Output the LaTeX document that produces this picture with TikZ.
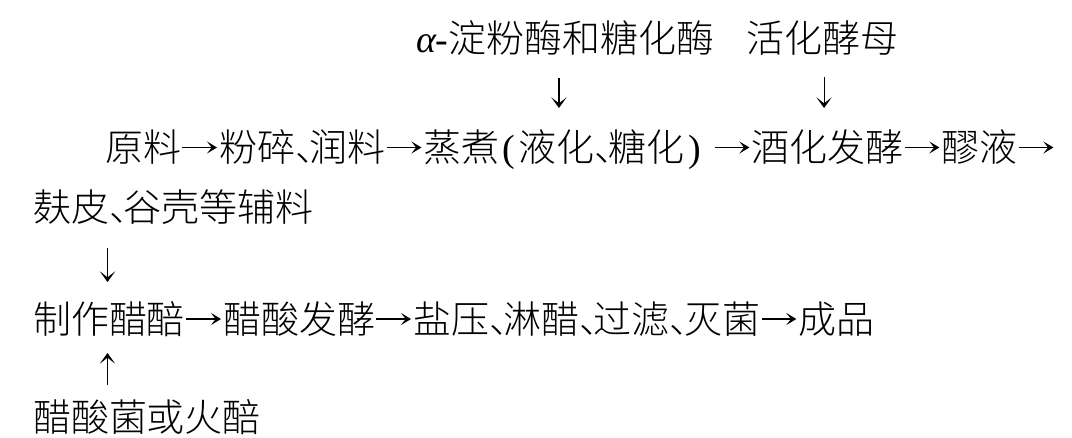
\documentclass[tikz,border=0pt]{standalone}
\usepackage{fontspec}
\setmainfont{Liberation Serif}
\newfontfamily\cjk{Noto Sans CJK SC}[UprightFont={* Light}]
\usetikzlibrary{calc,arrows.meta}
\newcommand\mydun{\makebox[0.38em][l]{、}}
\newcommand\mylp{\makebox[0.5em][c]{\rmfamily(}}
\newcommand\myrp{\makebox[0.5em][c]{\rmfamily)}\kern0.25em}
\begin{document}
\begin{tikzpicture}[x=0.75pt,y=-0.75pt,
  every node/.style={inner sep=0pt, outer sep=0pt, anchor=west,
    text height=25.08pt, text depth=3.42pt},
  cj/.style={font=\cjk\fontsize{28.5pt}{34pt}\selectfont},
  harr/.style={-{Stealth[length=7.5pt,width=9pt,inset=3.5pt]}, line width=0.85pt,
    shorten <=1pt, shorten >=1.5pt},
  varr/.style={-{Stealth[length=8pt,width=11.5pt,inset=4.5pt]}, line width=0.85pt}]
\useasboundingbox (0,0) rectangle (1072,437);
% line 1
\node[cj] (enz) at (416,38) {{\rmfamily{\itshape α}-}淀粉酶和糖化酶};
\node[cj] (yeast) at (746,38) {活化酵母};
% line 3
\node[cj] (n1) at (105,147.5) {原料};
\node[cj] (n2) at ([xshift=28.5pt]n1.east) {粉碎\mydun 润料};
\node[cj] (n3) at ([xshift=28.5pt]n2.east) {蒸煮\mylp 液化\mydun 糖化\myrp};
\node[cj] (n4) at ([xshift=28.5pt]n3.east) {酒化发酵};
\node[cj] (n5) at ([xshift=28.5pt]n4.east) {醪液};
\coordinate (n6) at ([xshift=28.5pt]n5.east);
\draw[harr] (n1.east) -- (n2.west);
\draw[harr] (n2.east) -- (n3.west);
\draw[harr] (n3.east) -- (n4.west);
\draw[harr] (n4.east) -- (n5.west);
\draw[harr] (n5.east) -- (n6);
% line 4
\node[cj] (aux) at (33,207) {麸皮\mydun 谷壳等辅料};
% line 6
\node[cj] (m1) at (33,319) {制作醋醅};
\node[cj] (m2) at ([xshift=28.5pt]m1.east) {醋酸发酵};
\node[cj] (m3) at ([xshift=28.5pt]m2.east) {盐压\mydun 淋醋\mydun 过滤\mydun 灭菌};
\node[cj] (m4) at ([xshift=28.5pt]m3.east) {成品};
\draw[harr] (m1.east) -- (m2.west);
\draw[harr] (m2.east) -- (m3.west);
\draw[harr] (m3.east) -- (m4.west);
% line 8
\node[cj] (src) at (33,417) {醋酸菌或火醅};
% vertical arrows
\draw[varr] ($(n3.west)+(135.5,-69.5)$) -- ($(n3.west)+(135.5,-39.5)$);
\draw[varr] ($(n4.west)+(72.7,-70.5)$) -- ($(n4.west)+(72.7,-39.5)$);
\draw[varr] ($(m1.west)+(74.5,-71)$) -- ($(m1.west)+(74.5,-37)$);
\draw[varr] ($(src.west)+(74.5,-32)$) -- ($(src.west)+(74.5,-64)$);
\end{tikzpicture}
\end{document}
